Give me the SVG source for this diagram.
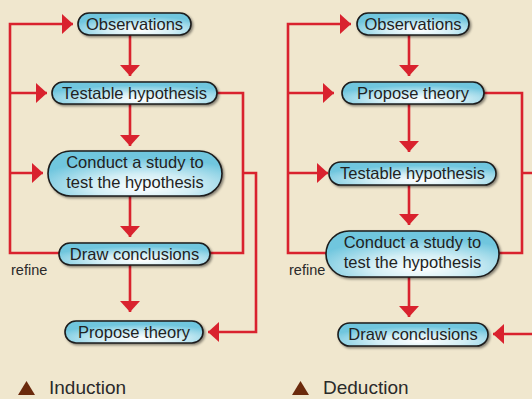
<svg xmlns="http://www.w3.org/2000/svg" width="532" height="399" viewBox="0 0 532 399">
<style>
.node rect{fill:url(#g);stroke:#1c1c1c;stroke-width:1.6;filter:url(#sh)}
.node text{font-family:"Liberation Sans",Arial,sans-serif;font-size:16.5px;fill:#222;text-anchor:middle}
.c path{fill:none;stroke:#d9222e;stroke-width:2.6}
.lbl{font-family:"Liberation Sans",Arial,sans-serif;font-size:14.5px;fill:#2a2a2a}
.cap{font-family:"Liberation Sans",Arial,sans-serif;font-size:19px;fill:#2a2a2a}
</style>
<defs>
<radialGradient id="g" cx="0.55" cy="0.8" r="0.65">
<stop offset="0" stop-color="#ffffff"/>
<stop offset="0.45" stop-color="#d2eef5"/>
<stop offset="1" stop-color="#70c6de"/>
</radialGradient>
<filter id="sh" x="-10%" y="-30%" width="125%" height="170%">
<feDropShadow dx="1.5" dy="1.5" stdDeviation="1.3" flood-color="#000" flood-opacity="0.45"/>
</filter>
<marker id="a" viewBox="0 0 11 20" refX="11" refY="10" markerWidth="11" markerHeight="20" markerUnits="userSpaceOnUse" orient="auto">
<path d="M0,0 L11,10 L0,20 z" fill="#d9222e"/>
</marker>
</defs>
<rect width="532" height="399" fill="#f0e7ce"/>
<g id="connectors" class="c">
<path d="M130,35 V76" marker-end="url(#a)"/>
<path d="M130,104 V146" marker-end="url(#a)"/>
<path d="M130,196 V237" marker-end="url(#a)"/>
<path d="M130,265 V312" marker-end="url(#a)"/>
<path d="M59,253 H10 V24 H73" marker-end="url(#a)"/>
<path d="M10,93 H47" marker-end="url(#a)"/>
<path d="M10,173 H43" marker-end="url(#a)"/>
<path d="M217,93 H243 V253 H210"/>
<path d="M243,173 H256 V332 H208" marker-end="url(#a)"/>
<path d="M409,35 V76" marker-end="url(#a)"/>
<path d="M409,104 V152" marker-end="url(#a)"/>
<path d="M409,185 V225" marker-end="url(#a)"/>
<path d="M409,277 V317" marker-end="url(#a)"/>
<path d="M326,253 H288 V24 H351" marker-end="url(#a)"/>
<path d="M288,93 H334" marker-end="url(#a)"/>
<path d="M288,173 H328" marker-end="url(#a)"/>
<path d="M484,93 H522 V253 H499"/>
<path d="M522,173 H540 V334 H493" marker-end="url(#a)"/>
</g>
<g id="ind-observations" class="node"><rect x="78" y="13" width="113" height="22" rx="11"/><text x="134.5" y="29.5">Observations</text></g>
<g id="ind-testable" class="node"><rect x="52" y="82" width="165" height="22" rx="11"/><text x="134.5" y="99">Testable hypothesis</text></g>
<g id="ind-conduct" class="node"><rect x="48" y="151" width="174" height="45" rx="22.5"/><text x="135" y="168">Conduct a study to</text><text x="135" y="188">test the hypothesis</text></g>
<g id="ind-draw" class="node"><rect x="59" y="243" width="151" height="22" rx="11"/><text x="134.5" y="260">Draw conclusions</text></g>
<g id="ind-propose" class="node"><rect x="65" y="321" width="138" height="22" rx="11"/><text x="134" y="338">Propose theory</text></g>
<g id="ded-observations" class="node"><rect x="357" y="13" width="112" height="22" rx="11"/><text x="413" y="29.5">Observations</text></g>
<g id="ded-propose" class="node"><rect x="342" y="82" width="142" height="22" rx="11"/><text x="413" y="99">Propose theory</text></g>
<g id="ded-testable" class="node"><rect x="329" y="162" width="167" height="23" rx="11.5"/><text x="412.5" y="179">Testable hypothesis</text></g>
<g id="ded-conduct" class="node"><rect x="326" y="231" width="173" height="46" rx="23"/><text x="412.5" y="248">Conduct a study to</text><text x="412.5" y="268">test the hypothesis</text></g>
<g id="ded-draw" class="node"><rect x="338" y="323" width="150" height="23" rx="11.5"/><text x="413" y="340">Draw conclusions</text></g>
<text class="lbl" x="11" y="275">refine</text>
<text class="lbl" x="289" y="275">refine</text>
<g id="caption-induction"><path d="M26.5,381 L35,395 L18,395 z" fill="#6b2a0c"/><text class="cap" x="49" y="394">Induction</text></g>
<g id="caption-deduction"><path d="M300.5,381 L309,395 L292,395 z" fill="#6b2a0c"/><text class="cap" x="323" y="394">Deduction</text></g>
</svg>
